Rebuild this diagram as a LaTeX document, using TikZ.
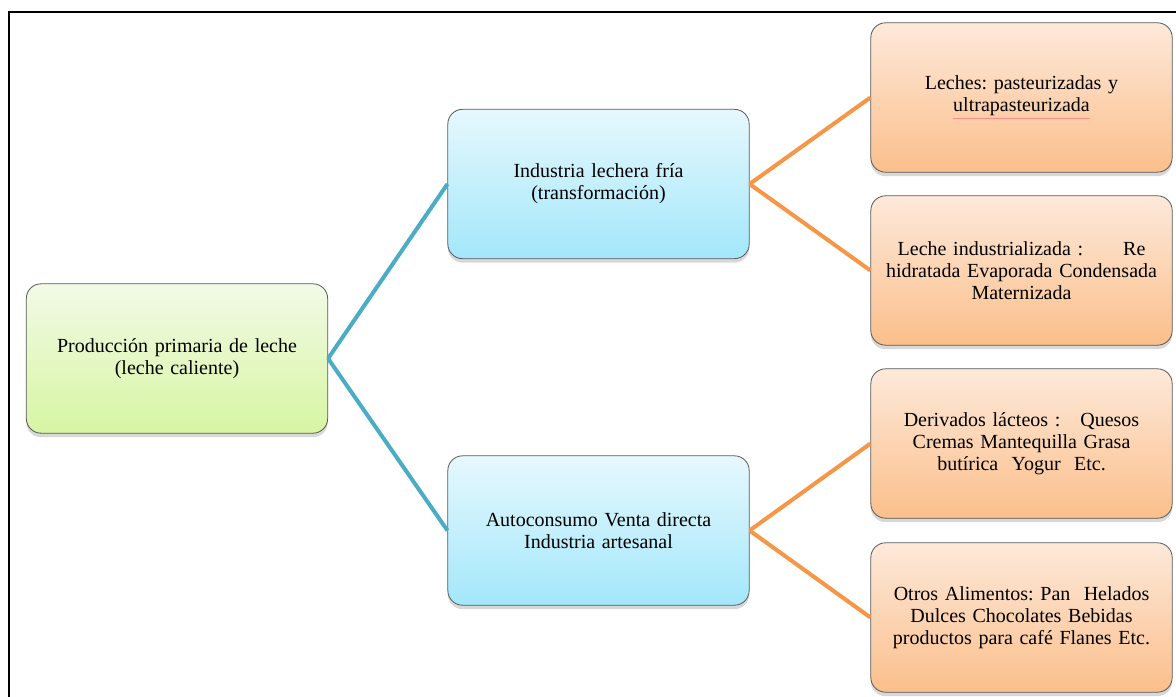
\documentclass[tikz,border=0pt]{standalone}
\usepackage{fontspec}
\setmainfont{Liberation Serif}
\usetikzlibrary{shadows}
\frenchspacing
\definecolor{bluel}{HTML}{4BACC6}
\definecolor{orangel}{HTML}{F79646}
\definecolor{gtop}{HTML}{F2FAE6}
\definecolor{gbot}{HTML}{D7F5A3}
\definecolor{btop}{HTML}{E6F8FD}
\definecolor{bbot}{HTML}{A3E7FB}
\definecolor{otop}{HTML}{FDE9DA}
\definecolor{obot}{HTML}{FBBF8B}
\tikzset{
  box/.style={rounded corners=11pt, draw=black!65, line width=0.6pt,
    minimum width=226pt, minimum height=112pt, text width=224pt,
    align=center, inner sep=0pt, font=\fontsize{15}{16.5}\selectfont,
    drop shadow={opacity=0.3, shadow xshift=0pt, shadow yshift=-3pt}},
  greenbox/.style={box, top color=gtop, bottom color=gbot},
  bluebox/.style={box, top color=btop, bottom color=bbot},
  orangebox/.style={box, top color=otop, bottom color=obot},
  blueconn/.style={draw=bluel, line width=3pt},
  orangeconn/.style={draw=orangel, line width=3pt},
}
\begin{document}
\begin{tikzpicture}[x=0.75pt, y=-0.75pt]
\useasboundingbox (0,0) rectangle (1176,696);
\fill[white] (0,0) rectangle (1176,696);
\draw[line width=1.6pt] (9,700) -- (9,12) -- (1180,12);

\node[greenbox] (root) at (177,358.5) {Producción primaria de leche\\(leche caliente)};
\node[bluebox] (m1) at (598.5,184) {Industria lechera fría\\(transformación)};
\node[bluebox] (m2) at (598.5,530.5) {Autoconsumo Venta directa\\Industria artesanal};
\node[orangebox] (r1) at (1021.5,97.5) {Leches: pasteurizadas y\\{\color{red!45}\underline{\color{black}ultrapasteurizada}}};
\node[orangebox] (r2) at (1021.5,270.5) {Leche industrializada :\hspace{2em}Re\\hidratada Evaporada Condensada\\Maternizada};
\node[orangebox] (r3) at (1021.5,443.5) {Derivados lácteos :\hspace{1em}Quesos\\Cremas Mantequilla Grasa\\butírica\ \ Yogur\ \ Etc.};
\node[orangebox] (r4) at (1021.5,617.5) {Otros Alimentos: Pan\ \ Helados\\Dulces Chocolates Bebidas\\productos para café Flanes Etc.};

\draw[blueconn] (root.east) -- (m1.west);
\draw[blueconn] (root.east) -- (m2.west);
\draw[orangeconn] (m1.east) -- (r1.west);
\draw[orangeconn] (m1.east) -- (r2.west);
\draw[orangeconn] (m2.east) -- (r3.west);
\draw[orangeconn] (m2.east) -- (r4.west);
\end{tikzpicture}
\end{document}
